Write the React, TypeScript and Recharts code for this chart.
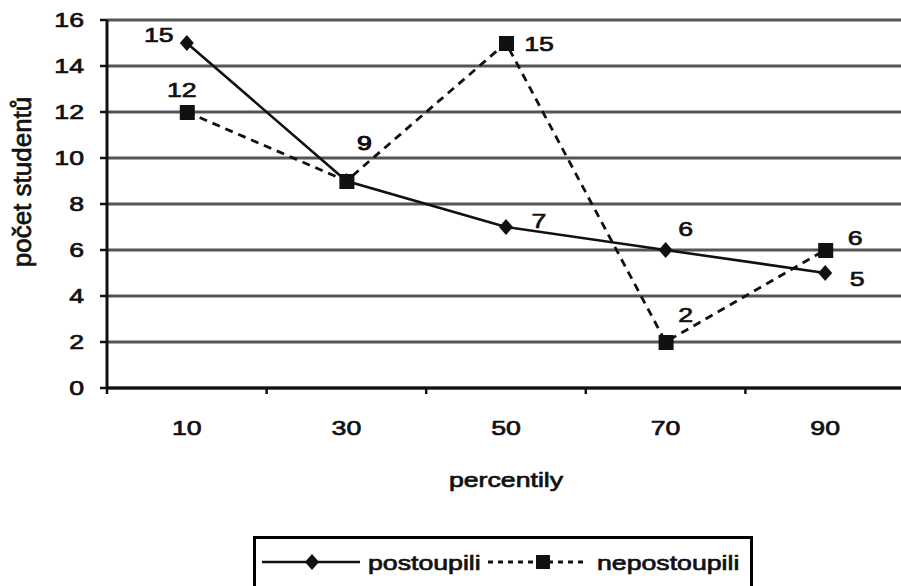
import React from 'react';
import { LineChart, Line, XAxis, YAxis, CartesianGrid, Legend, LabelList, Label } from 'recharts';

const categories = [10, 30, 50, 70, 90];
const postoupili = [15, 9, 7, 6, 5];
const nepostoupili = [12, 9, 15, 2, 6];
const yTicks = [0, 2, 4, 6, 8, 10, 12, 14, 16];
const xTicks = [0, 10, 20, 30, 40, 50, 60, 70, 80, 90];
const seriesNames = ['postoupili', 'nepostoupili'];
const xTitle = 'percentily';
const yTitle = 'počet studentů';

const data = categories.map((c, i) => ({ x: c, postoupili: postoupili[i], nepostoupili: nepostoupili[i] }));

const FONT = '"Liberation Sans", Arial, sans-serif';
const SX = 1.27;
const INK = '#111';
const TXT = { fontFamily: FONT, fill: INK, stroke: INK, strokeWidth: 0.7 } as const;

const postOffsets = [[-28, -8], [18, -38], [33, -6], [20, -21], [32, 6]];
const nepoOffsets = [[-5, -22], [18, -38], [33, 1], [20, -27], [30, -12]];

const diamondPath = (cx: number, cy: number, r: number) =>
  `M${cx},${cy - r} L${cx + r - 1},${cy} L${cx},${cy + r} L${cx - r + 1},${cy} Z`;

const DiamondDot = (props: any) => {
  const { cx, cy, index } = props;
  if (cx == null || cy == null) return <g key={`dd-${index}`} />;
  return <path key={`dd-${index}`} d={diamondPath(cx, cy, 8)} fill={INK} />;
};

const SquareDot = (props: any) => {
  const { cx, cy, index } = props;
  if (cx == null || cy == null) return <g key={`sd-${index}`} />;
  return <rect key={`sd-${index}`} x={cx - 7} y={cy - 7} width={15} height={15} fill={INK} />;
};

const makeLabel = (offsets: number[][]) => (props: any) => {
  const { x, y, value, index } = props;
  const [dx, dy] = offsets[index] || [0, -20];
  return (
    <text
      transform={`translate(${x + dx},${y + dy}) scale(${SX},1)`}
      textAnchor="middle"
      dominantBaseline="central"
      fontSize={21}
      {...TXT}
    >
      {value}
    </text>
  );
};

const XTick = (props: any) => {
  const { x, y, payload } = props;
  const v = payload.value;
  if (categories.includes(v)) {
    return (
      <text transform={`translate(${x},${y + 47}) scale(${SX},1)`} textAnchor="middle" fontSize={21} {...TXT}>
        {v}
      </text>
    );
  }
  return <line x1={x} x2={x} y1={y} y2={y + 6} stroke={INK} strokeWidth={2.5} />;
};

const YTick = (props: any) => {
  const { x, y, payload } = props;
  return (
    <g>
      <line x1={x - 7} x2={x} y1={y} y2={y} stroke={INK} strokeWidth={2.5} />
      <text
        transform={`translate(${x - 23},${y}) scale(${SX},1)`}
        textAnchor="end"
        dominantBaseline="central"
        fontSize={21}
        {...TXT}
      >
        {payload.value}
      </text>
    </g>
  );
};

const XTitle = (props: any) => {
  const vb = props.viewBox || { x: 0, y: 0, width: 0 };
  return (
    <text
      transform={`translate(${vb.x + vb.width / 2},${vb.y + 99}) scale(${SX},1)`}
      textAnchor="middle"
      fontSize={21}
      {...TXT}
    >
      {xTitle}
    </text>
  );
};

const YTitle = (props: any) => {
  const vb = props.viewBox || { x: 0, y: 0 };
  return (
    <text
      transform={`translate(${vb.x + 31},${vb.y + 162}) rotate(-90)`}
      textAnchor="middle"
      fontSize={26}
      {...TXT}
    >
      {yTitle}
    </text>
  );
};

const LegendBox = () => (
  <div style={{ border: '3px solid #000', background: '#fff', width: 494, height: 52 }}>
    <svg width={494} height={52} style={{ display: 'block' }}>
      <line x1={6} x2={104} y1={23} y2={23} stroke={INK} strokeWidth={2.5} />
      <path d={diamondPath(56, 23, 8)} fill={INK} />
      <text transform={`translate(112,31) scale(${SX},1)`} fontSize={21} {...TXT}>
        {seriesNames[0]}
      </text>
      <line x1={232} x2={332} y1={23} y2={23} stroke={INK} strokeWidth={2.8} strokeDasharray="5 5" />
      <rect x={280} y={16} width={14} height={14} fill={INK} />
      <text transform={`translate(341,31) scale(${SX},1)`} fontSize={21} {...TXT}>
        {seriesNames[1]}
      </text>
    </svg>
  </div>
);

export default function App() {
  return (
    <div style={{ position: 'absolute', left: 0, top: 0, width: 901, height: 586, background: '#fff', overflow: 'hidden' }}>
      <LineChart width={901} height={586} data={data} margin={{ top: 20, right: -4, left: 0, bottom: 78 }}>
        <CartesianGrid vertical={false} stroke="#555" strokeWidth={2.8} />
        <XAxis
          type="number"
          dataKey="x"
          domain={[0, 100]}
          ticks={xTicks}
          tick={<XTick />}
          tickLine={false}
          tickSize={0}
          tickMargin={0}
          interval={0}
          height={120}
          axisLine={{ stroke: INK, strokeWidth: 3 }}
        >
          <Label content={<XTitle />} />
        </XAxis>
        <YAxis
          type="number"
          domain={[0, 16]}
          ticks={yTicks}
          tick={<YTick />}
          tickLine={false}
          tickSize={0}
          tickMargin={0}
          interval={0}
          width={107}
          axisLine={{ stroke: INK, strokeWidth: 3 }}
        >
          <Label content={<YTitle />} />
        </YAxis>
        <Legend
          layout="vertical"
          align="center"
          verticalAlign="middle"
          content={<LegendBox />}
          wrapperStyle={{ left: 253, top: 536, width: 'auto', height: 'auto' }}
        />
        <Line
          type="linear"
          dataKey="postoupili"
          name={seriesNames[0]}
          stroke={INK}
          strokeWidth={2.6}
          dot={DiamondDot}
          activeDot={false}
          isAnimationActive={false}
        >
          <LabelList dataKey="postoupili" content={makeLabel(postOffsets)} />
        </Line>
        <Line
          type="linear"
          dataKey="nepostoupili"
          name={seriesNames[1]}
          stroke={INK}
          strokeWidth={2.8}
          strokeDasharray="8 6"
          dot={SquareDot}
          activeDot={false}
          isAnimationActive={false}
        >
          <LabelList dataKey="nepostoupili" content={makeLabel(nepoOffsets)} />
        </Line>
      </LineChart>
    </div>
  );
}
